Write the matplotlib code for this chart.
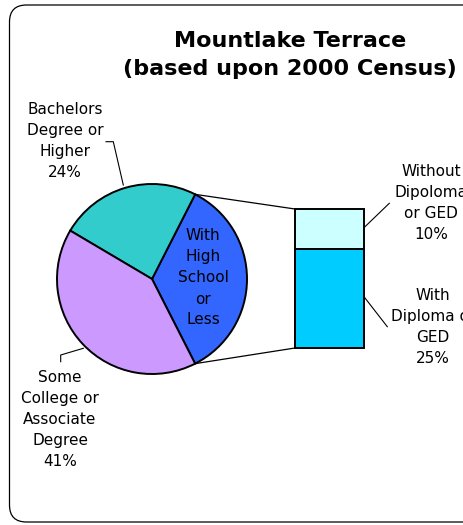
import matplotlib.pyplot as plt
from matplotlib.patches import FancyBboxPatch
import numpy as np

# education levels, Mountlake Terrace (2000 census)
pie_labels = ['With\nHigh\nSchool\nor\nLess',
              'Bachelors\nDegree or\nHigher',
              'Some\nCollege or\nAssociate\nDegree']
pie_values = [35, 24, 41]
pie_colors = ['#3366FF', '#33CCCC', '#CC99FF']

bar_labels = ['With\nDiploma or\nGED', 'Without\nDipoloma\nor GED']
bar_values = [25, 10]
bar_colors = ['#00CCFF', '#CCFFFF']

W, H = 463, 525
def py(y):
    # pixel row from the top -> data y
    return H - y

fig = plt.figure(figsize=(W / 100, H / 100), dpi=100)
ax = fig.add_axes([0, 0, 1, 1])

# rounded chart border
ax.add_patch(FancyBboxPatch((9.5, py(522)), 520, 517,
                            boxstyle='round,pad=0,rounding_size=17',
                            fc='white', ec='black', lw=0.9))

cx, cy, r = 152, py(279), 95
wedges, _ = ax.pie(pie_values, colors=pie_colors, startangle=-63, radius=r,
                   center=(cx, cy), frame=True,
                   wedgeprops=dict(edgecolor='black', linewidth=1.4))

# stacked bar for the "high school or less" slice
bar_x, bar_w = 329.5, 69
scale = 139 / sum(bar_values)
bottom = py(348)
for v, c in zip(bar_values, bar_colors):
    ax.bar(bar_x, v * scale, width=bar_w, bottom=bottom, color=c,
           edgecolor='black', linewidth=1.4, zorder=3)
    bottom += v * scale
bar_top = bottom
bar_bottom = py(348)

# connector lines from slice to bar
w = wedges[0]
t1, t2 = np.radians(w.theta1), np.radians(w.theta2)
ax.plot([cx + r * np.cos(t2), bar_x - bar_w / 2], [cy + r * np.sin(t2), bar_top],
        color='black', lw=0.9)
ax.plot([cx + r * np.cos(t1), bar_x - bar_w / 2], [cy + r * np.sin(t1), bar_bottom],
        color='black', lw=0.9)

font = dict(family='DejaVu Sans', size=11, ha='center', va='center', linespacing=1.5)

ax.text(290, py(55), 'Mountlake Terrace\n(based upon 2000 Census)',
        fontsize=16, fontweight='bold', family='DejaVu Sans',
        ha='center', va='center', linespacing=1.45)

# slice labels
ax.text(203, py(278), pie_labels[0], **font)
ax.text(65, py(141), f'{pie_labels[1]}\n{pie_values[1]}%', **font)
ax.text(60, py(420), f'{pie_labels[2]}\n{pie_values[2]}%', **font)
ax.plot([106, 113.3, 123.3], [py(141.7), py(141.7), py(185)], color='black', lw=0.8)
ax.plot([60.7, 60.7, 83.3], [py(361.7), py(355), py(348.3)], color='black', lw=0.8)

# bar labels (clipped at the right edge, as in the original)
ax.text(431, py(203), f'{bar_labels[1]}\n{bar_values[1]}%', **font)
ax.text(433, py(327), f'{bar_labels[0]}\n{bar_values[0]}%', **font)
ax.plot([365, 389.3], [py(226.7), py(203.3)], color='black', lw=0.8)
ax.plot([365, 387.3], [py(298), py(326.7)], color='black', lw=0.8)

ax.set_xlim(0, W)
ax.set_ylim(0, H)
ax.set_aspect('equal')
ax.set_axis_off()

fig.savefig('out.png', dpi=100)
